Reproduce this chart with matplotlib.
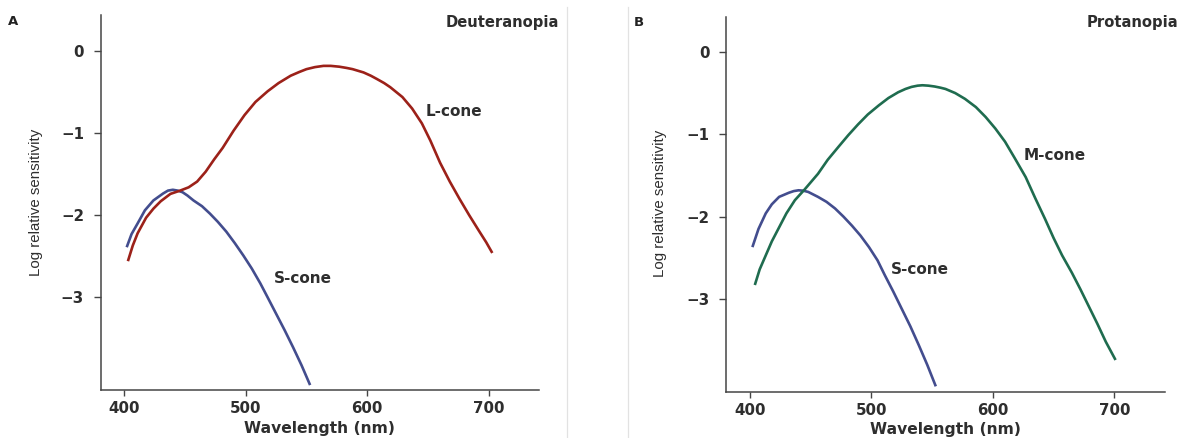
import matplotlib
matplotlib.use("Agg")
import matplotlib.pyplot as plt
from matplotlib.lines import Line2D

# ---------------- data ----------------
# Panel A: Deuteranopia
l_cone_wl = [403, 407, 411, 418, 424, 430, 438, 446, 453, 460, 467, 474, 481, 490,
             499, 508, 518, 527, 537, 544, 550, 557, 564, 570, 577, 583, 588, 597,
             603, 608, 614, 619, 624, 629, 637, 645, 652, 660, 668, 676, 684, 692,
             698, 703]
l_cone_val = [-2.56, -2.37, -2.22, -2.03, -1.92, -1.83, -1.74, -1.70, -1.66, -1.59,
              -1.47, -1.32, -1.18, -0.97, -0.78, -0.62, -0.49, -0.39, -0.30, -0.255,
              -0.22, -0.195, -0.18, -0.18, -0.19, -0.205, -0.22, -0.26, -0.30, -0.34,
              -0.39, -0.44, -0.50, -0.56, -0.70, -0.88, -1.09, -1.36, -1.59, -1.80,
              -2.00, -2.19, -2.33, -2.46]

s_cone_a_wl = [402, 406, 411, 417, 424, 432, 436, 440, 444, 448, 452, 457, 464,
               470.5, 477, 484, 491, 498, 505, 512, 518, 525, 532, 539, 546, 553]
s_cone_a_val = [-2.39, -2.23, -2.10, -1.94, -1.82, -1.735, -1.70, -1.69, -1.70,
                -1.72, -1.76, -1.82, -1.89, -1.98, -2.08, -2.20, -2.34, -2.49, -2.65,
                -2.83, -3.00, -3.20, -3.40, -3.61, -3.83, -4.07]

# Panel B: Protanopia
m_cone_wl = [404, 408, 413, 418, 424, 430, 437, 445, 456, 464, 473, 481, 489, 497,
             506, 514, 522, 528, 533, 538, 542, 547, 552, 557, 561, 569, 577, 586,
             594, 602, 610, 618, 627, 635, 643, 650, 657, 665, 672, 679, 686, 693,
             701]
m_cone_val = [-2.83, -2.64, -2.47, -2.30, -2.13, -1.96, -1.80, -1.67, -1.48, -1.31,
              -1.15, -1.01, -0.88, -0.76, -0.65, -0.56, -0.49, -0.45, -0.425, -0.41,
              -0.405, -0.41, -0.42, -0.435, -0.45, -0.50, -0.57, -0.67, -0.79, -0.93,
              -1.09, -1.29, -1.52, -1.78, -2.03, -2.26, -2.47, -2.68, -2.88, -3.09,
              -3.30, -3.52, -3.74]

s_cone_b_wl = [402, 407, 413, 418, 424, 432, 436, 440, 444, 448, 452, 456, 463,
               470, 477, 484, 491, 498, 505, 511, 518, 525, 532, 539, 546, 553]
s_cone_b_val = [-2.37, -2.15, -1.96, -1.85, -1.76, -1.71, -1.69, -1.68, -1.685,
                -1.70, -1.73, -1.76, -1.82, -1.90, -2.00, -2.11, -2.23, -2.37, -2.53,
                -2.71, -2.91, -3.12, -3.33, -3.56, -3.80, -4.06]

x_ticks = [400, 500, 600, 700]
y_ticks = [0, -1, -2, -3]
y_tick_labels = ["0", "\u22121", "\u22122", "\u22123"]

panel_letters = ["A", "B"]
panel_titles = ["Deuteranopia", "Protanopia"]
x_label = "Wavelength (nm)"
y_label = "Log relative sensitivity"

# ---------------- style ----------------
RED = "#9c2119"
BLUE = "#434d8e"
GREEN = "#1f6c4f"
TXT = "#2e2e2e"
AX = "#454545"

W, H = 1183, 438
fig = plt.figure(figsize=(W / 100, H / 100), dpi=100)
fig.patch.set_facecolor("white")

def px_rect(left, top, right, bottom):
    return [left / W, 1 - bottom / H, (right - left) / W, (bottom - top) / H]

axA = fig.add_axes(px_rect(100.7, 15, 539.3, 390))
axB = fig.add_axes(px_rect(726.4, 17.3, 1165, 391.7))

tick_font = dict(family="DejaVu Sans", weight="bold", size=10.8)

def style(ax, ylim):
    ax.set_xlim(380.6, 741.7)
    ax.set_ylim(*ylim)
    for s in ("top", "right"):
        ax.spines[s].set_visible(False)
    for s in ("left", "bottom"):
        ax.spines[s].set_color(AX)
        ax.spines[s].set_linewidth(1.1)
    ax.set_xticks(x_ticks)
    ax.set_xticklabels([str(t) for t in x_ticks], fontdict=tick_font, color=TXT)
    ax.set_yticks(y_ticks)
    ax.set_yticklabels(y_tick_labels, fontdict=tick_font, color=TXT)
    ax.tick_params(axis="x", length=4.5, width=1.0, color=AX, pad=3.5)
    ax.tick_params(axis="y", length=5.0, width=1.0, color=AX, pad=7)
    ax.set_xlabel(x_label, fontdict=dict(family="DejaVu Sans", weight="bold", size=11.2),
                  color=TXT)
    ax.xaxis.label.set_va("baseline")
    ax.set_ylabel(y_label, fontdict=dict(family="Liberation Sans", size=10.8), color=TXT)
    ax.yaxis.label.set_va("center")

style(axA, (-4.13, 0.44))
style(axB, (-4.125, 0.42))
axA.xaxis.set_label_coords(0.5, -43 / 375)
axB.xaxis.set_label_coords(0.5, -42 / 374.4)
axA.yaxis.set_label_coords(-0.147, 0.499)
axB.yaxis.set_label_coords(-0.152, 0.504)

lw = 1.9
axA.plot(s_cone_a_wl, s_cone_a_val, color=BLUE, lw=lw, solid_capstyle="butt",
         solid_joinstyle="round")
axA.plot(l_cone_wl, l_cone_val, color=RED, lw=lw, solid_capstyle="butt",
         solid_joinstyle="round")
axB.plot(s_cone_b_wl, s_cone_b_val, color=BLUE, lw=lw, solid_capstyle="butt",
         solid_joinstyle="round")
axB.plot(m_cone_wl, m_cone_val, color=GREEN, lw=lw, solid_capstyle="butt",
         solid_joinstyle="round")

lab_font = dict(family="DejaVu Sans", weight="bold", size=11.0)
axA.text(648, -0.74, "L-cone", color=TXT, ha="left", va="center", fontdict=lab_font)
axA.text(523.5, -2.77, "S-cone", color=TXT, ha="left", va="center", fontdict=lab_font)
axB.text(625.6, -1.255, "M-cone", color=TXT, ha="left", va="center", fontdict=lab_font)
axB.text(516.3, -2.64, "S-cone", color=TXT, ha="left", va="center", fontdict=lab_font)

# panel letters and titles
fig.text(8 / W, 1 - 25 / H, panel_letters[0], ha="left", va="baseline",
         family="DejaVu Sans", weight="bold", size=9.5, color="#222222")
fig.text(634 / W, 1 - 26 / H, panel_letters[1], ha="left", va="baseline",
         family="DejaVu Sans", weight="bold", size=9.5, color="#222222")
fig.text(559 / W, 1 - 26.7 / H, panel_titles[0], ha="right", va="baseline",
         family="DejaVu Sans", weight="bold", size=10.6, color=TXT)
fig.text(1178 / W, 1 - 26.7 / H, panel_titles[1], ha="right", va="baseline",
         family="DejaVu Sans", weight="bold", size=10.6, color=TXT)

# faint separators between panels
for xs in (566.7, 628.3):
    fig.add_artist(Line2D([xs / W, xs / W], [0, 1 - 6.7 / H], transform=fig.transFigure,
                          color="#e2e2e2", lw=0.9))

fig.savefig("out.png", dpi=100, facecolor="white")
